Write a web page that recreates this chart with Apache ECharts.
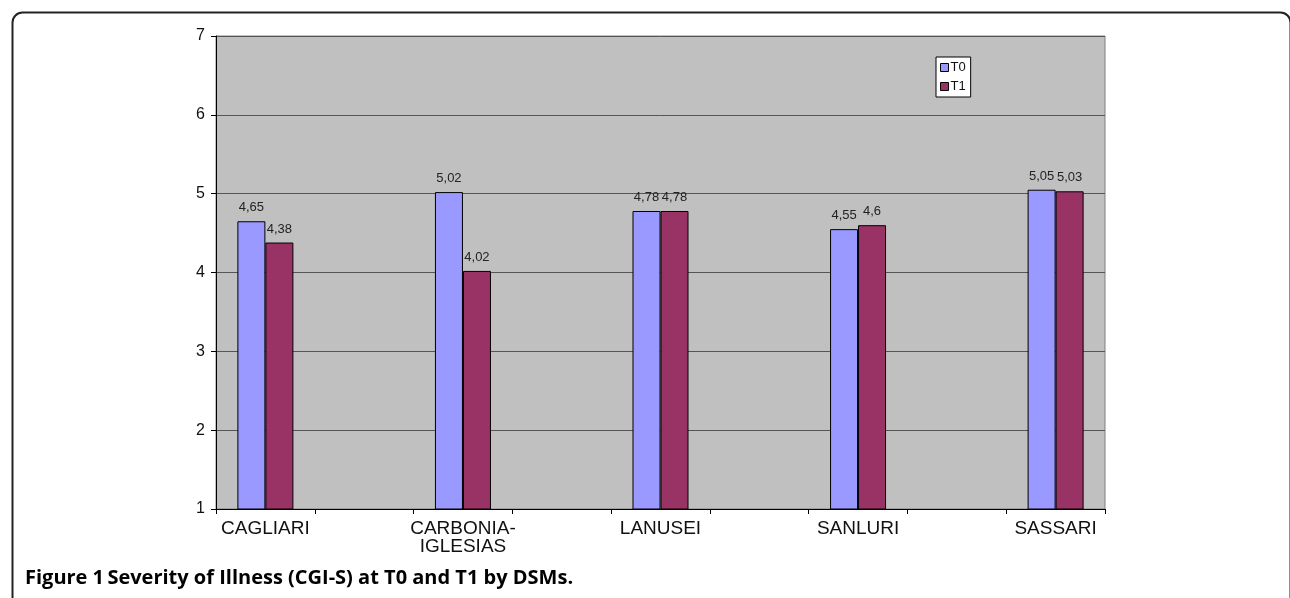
<!DOCTYPE html>
<html>
<head>
<meta charset="utf-8">
<script src="https://cdn.jsdelivr.net/npm/echarts@6/dist/echarts.min.js"></script>
<style>
html,body{margin:0;padding:0;background:#fff;}
#c{width:1290px;height:598px;}
</style>
</head>
<body>
<div id="c"></div>
<script>
// Data
const districts = ['CAGLIARI', 'CARBONIA-\nIGLESIAS', 'LANUSEI', 'SANLURI', 'SASSARI'];
const t0 = [4.65, 5.02, 4.78, 4.55, 5.05];
const t1 = [4.38, 4.02, 4.78, 4.6, 5.03];
const seriesNames = ['T0', 'T1'];
const yTicks = [1, 2, 3, 4, 5, 6, 7];
const captionBold = 'Figure 1';
const captionRest = 'Severity of Illness (CGI-S) at T0 and T1 by DSMs.';

// Excel-style layout: empty spacer categories between districts
const cats = [], v0 = [], v1 = [];
districts.forEach((d, i) => {
  cats.push(d); v0.push(t0[i]); v1.push(t1[i]);
  if (i < districts.length - 1) { cats.push(''); v0.push(null); v1.push(null); }
});

const fmt = p => p.value == null ? '' : String(p.value).replace('.', ',');
const chart = echarts.init(document.getElementById('c'), null, {renderer: 'canvas'});
chart.setOption({
  animation: false,
  backgroundColor: '#fff',
  grid: {left: 216, top: 36, right: 185, bottom: 89, show: true, backgroundColor: '#c0c0c0', borderColor: '#808080', borderWidth: 1},
  legend: {
    data: seriesNames, orient: 'vertical', left: 936, top: 57,
    itemWidth: 8, itemHeight: 8, itemGap: 6, padding: [4, 5, 4, 4],
    backgroundColor: '#fff', borderColor: '#000', borderWidth: 1,
    icon: 'rect',
    itemStyle: {borderColor: '#000', borderWidth: 1},
    textStyle: {fontFamily: 'Liberation Sans', fontSize: 13, color: '#111', padding: [0, 0, 0, -3]}
  },
  xAxis: {
    type: 'category', data: cats,
    axisLine: {lineStyle: {color: '#000', width: 1}},
    axisTick: {show: true, interval: 0, length: 5, lineStyle: {color: '#000'}},
    axisLabel: {interval: 0, fontFamily: 'Liberation Sans', fontSize: 19, color: '#111', margin: 11, lineHeight: 18},
    splitLine: {show: false}
  },
  yAxis: {
    type: 'value', min: yTicks[0], max: yTicks[yTicks.length - 1], interval: 1,
    axisLine: {show: true, lineStyle: {color: '#000', width: 1}},
    axisTick: {show: true, length: 5, lineStyle: {color: '#000'}},
    axisLabel: {fontFamily: 'Liberation Sans', fontSize: 16, color: '#111', margin: 11},
    splitLine: {show: true, lineStyle: {color: '#555', width: 1}}
  },
  series: [
    {name: seriesNames[0], type: 'bar', data: v0, barWidth: 28, barGap: '0%',
     itemStyle: {color: '#9999ff', borderColor: '#000', borderWidth: 1},
     label: {show: true, position: 'top', distance: 7, formatter: fmt, fontFamily: 'Liberation Sans', fontSize: 13, color: '#222'}},
    {name: seriesNames[1], type: 'bar', data: v1, barWidth: 28, barGap: '0%',
     itemStyle: {color: '#993366', borderColor: '#000', borderWidth: 1},
     label: {show: true, position: 'top', distance: 7, formatter: fmt, fontFamily: 'Liberation Sans', fontSize: 13, color: '#222'}}
  ],
  graphic: [
    {type: 'rect', left: 10, top: 10, shape: {x: 0, y: 0, width: 1278, height: 700, r: 10}, style: {fill: 'none', stroke: '#222', lineWidth: 2}, silent: true},
    {type: 'text', left: 25, top: 568, style: {
      text: '{b|' + captionBold + '} {r|' + captionRest + '}',
      rich: {
        b: {fontFamily: 'Open Sans', fontWeight: 'bold', fontSize: 20, fill: '#000'},
        r: {fontFamily: 'Open Sans', fontWeight: 'bold', fontSize: 20, fill: '#000'}
      }
    }}
  ]
});
</script>
</body>
</html>
